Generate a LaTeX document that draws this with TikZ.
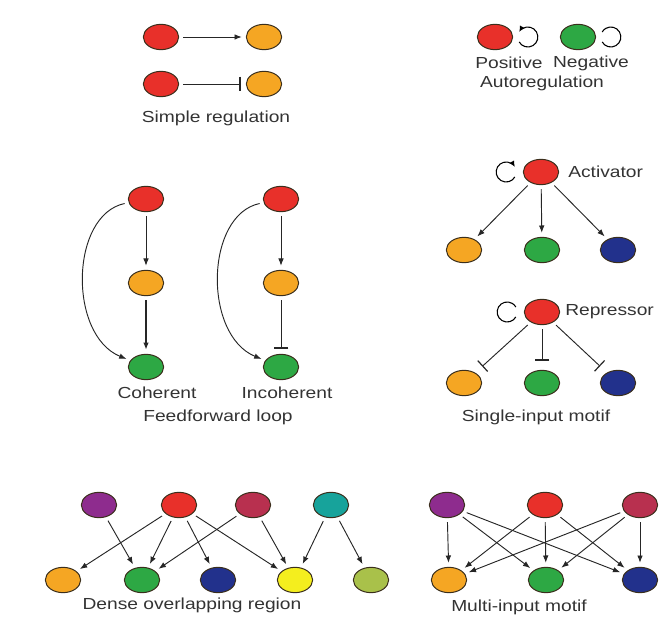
\documentclass[tikz,border=0pt]{standalone}
\usepackage{fontspec}
\setmainfont{Liberation Sans}[FakeStretch=1.2]
\usepackage{xcolor}
\usetikzlibrary{calc,arrows.meta,shapes.geometric}

\definecolor{gred}{HTML}{E8302A}
\definecolor{gorange}{HTML}{F5A623}
\definecolor{ggreen}{HTML}{2DA844}
\definecolor{gnavy}{HTML}{22318C}
\definecolor{gpurple}{HTML}{8E2C8E}
\definecolor{gcrimson}{HTML}{B8304F}
\definecolor{gteal}{HTML}{17A39B}
\definecolor{gyellow}{HTML}{F4EE1E}
\definecolor{golive}{HTML}{A9C14A}
\definecolor{gedge}{HTML}{3A2E1C}

\begin{document}
\begin{tikzpicture}[x=0.75pt, y=-0.75pt,
    gene/.style={ellipse, draw=gedge, line width=0.75pt, minimum width=26.5pt, minimum height=19pt, inner sep=0pt},
    act/.style={-{Latex[length=5.5pt,width=4.2pt]}, draw=black!85, line width=0.7pt, shorten >=3pt, shorten <=3pt},
    rep/.style={-{Bar[width=11pt,line width=0.9pt]}, draw=black!85, line width=0.7pt, shorten >=4pt, shorten <=3pt},
    lbl/.style={font=\fontsize{12}{14}\selectfont, text=black!80, inner sep=0pt}]
    \useasboundingbox (0,0) rectangle (664,627);

    \node[gene, fill=gred] (sa1) at (161,37) {};
    \node[gene, fill=gorange] (sb1) at (264,37) {};
    \node[gene, fill=gred] (sa2) at (161,84) {};
    \node[gene, fill=gorange] (sb2) at (264,84) {};
    \draw[act] (sa1) -- (sb1);
    \draw[rep] (sa2) -- (sb2);
    \node[lbl] (simple) at (216,118) {Simple regulation};

    \node[gene, fill=gred] (pos) at (495,37) {};
    \node[gene, fill=ggreen] (neg) at (578,37) {};
    \draw[-{Latex[length=4.5pt,width=4pt]}, line width=0.8pt] ($(pos.east)+(6,5)$) arc[start angle=150, end angle=-150, radius=10];
    \draw[line width=0.8pt] ($(neg.east)+(6,5)$) arc[start angle=150, end angle=-150, radius=10];
    \node[lbl] (poslbl) at (509,63) {Positive};
    \node[lbl] (neglbl) at (591,63) {Negative};
    \node[lbl] (auto) at (542,83) {Autoregulation};

    \node[gene, fill=gred] (cr) at (146,199) {};
    \node[gene, fill=gorange] (co) at (146,283) {};
    \node[gene, fill=ggreen] (cg) at (146,367) {};
    \draw[act] (cr) -- (co);
    \draw[act, line width=1pt] (co) -- (cg);
    \draw[act] (cr) .. controls (70,215) and (68,335) .. (cg);
    \node[gene, fill=gred] (ir) at (281,199) {};
    \node[gene, fill=gorange] (io) at (281,283) {};
    \node[gene, fill=ggreen] (ig) at (281,367) {};
    \draw[act] (ir) -- (io);
    \draw[rep] (io) -- (ig);
    \draw[act] (ir) .. controls (205,215) and (203,335) .. (ig);
    \node[lbl] (coh) at (157,393) {Coherent};
    \node[lbl] (incoh) at (287,393) {Incoherent};
    \node[lbl] (ffl) at (218,417) {Feedforward loop};

    \node[gene, fill=gred] (actv) at (541,172) {};
    \draw[-{Latex[length=4.5pt,width=4pt]}, line width=0.8pt] ($(actv.west)+(-8,5)$) arc[start angle=30, end angle=330, radius=10];
    \node[lbl, anchor=west] (actlbl) at (568,172) {Activator};
    \node[gene, fill=gorange] (ta1) at (464,250) {};
    \node[gene, fill=ggreen] (ta2) at (542,250) {};
    \node[gene, fill=gnavy] (ta3) at (618,250) {};
    \foreach \t in {ta1,ta2,ta3}
        \draw[act] (actv) -- (\t);
    \node[gene, fill=gred] (repr) at (542,312) {};
    \draw[line width=0.8pt] ($(repr.west)+(-8,5)$) arc[start angle=30, end angle=330, radius=10];
    \node[lbl, anchor=west] (replbl) at (565,312) {Repressor};
    \node[gene, fill=gorange] (tr1) at (464,383) {};
    \node[gene, fill=ggreen] (tr2) at (542,383) {};
    \node[gene, fill=gnavy] (tr3) at (618,383) {};
    \foreach \t in {tr1,tr2,tr3}
        \draw[rep, shorten >=7pt] (repr) -- (\t);
    \node[lbl] (sim) at (536,417) {Single-input motif};

    \node[gene, fill=gpurple] (dp) at (99,505) {};
    \node[gene, fill=gred] (dr) at (179,505) {};
    \node[gene, fill=gcrimson] (dc) at (253,505) {};
    \node[gene, fill=gteal] (dt) at (331,505) {};
    \node[gene, fill=gorange] (do) at (63,580) {};
    \node[gene, fill=ggreen] (dg) at (142,580) {};
    \node[gene, fill=gnavy] (db) at (218,580) {};
    \node[gene, fill=gyellow] (dy) at (295,580) {};
    \node[gene, fill=golive] (dl) at (371,580) {};
    \foreach \s/\t in {dp/dg, dr/do, dr/dg, dr/db, dr/dy, dc/dg, dc/dy, dt/dy, dt/dl}
        \draw[act] (\s) -- (\t);
    \node[lbl] (dor) at (192,605) {Dense overlapping region};

    \node[gene, fill=gpurple] (mp) at (447,505) {};
    \node[gene, fill=gred] (mr) at (545,505) {};
    \node[gene, fill=gcrimson] (mc) at (640,505) {};
    \node[gene, fill=gorange] (mo) at (449,580) {};
    \node[gene, fill=ggreen] (mg) at (546,580) {};
    \node[gene, fill=gnavy] (mb) at (640,580) {};
    \foreach \s in {mp,mr,mc}
        \foreach \t in {mo,mg,mb}
            \draw[act] (\s) -- (\t);
    \node[lbl] (mim) at (519,607) {Multi-input motif};
\end{tikzpicture}
\end{document}
